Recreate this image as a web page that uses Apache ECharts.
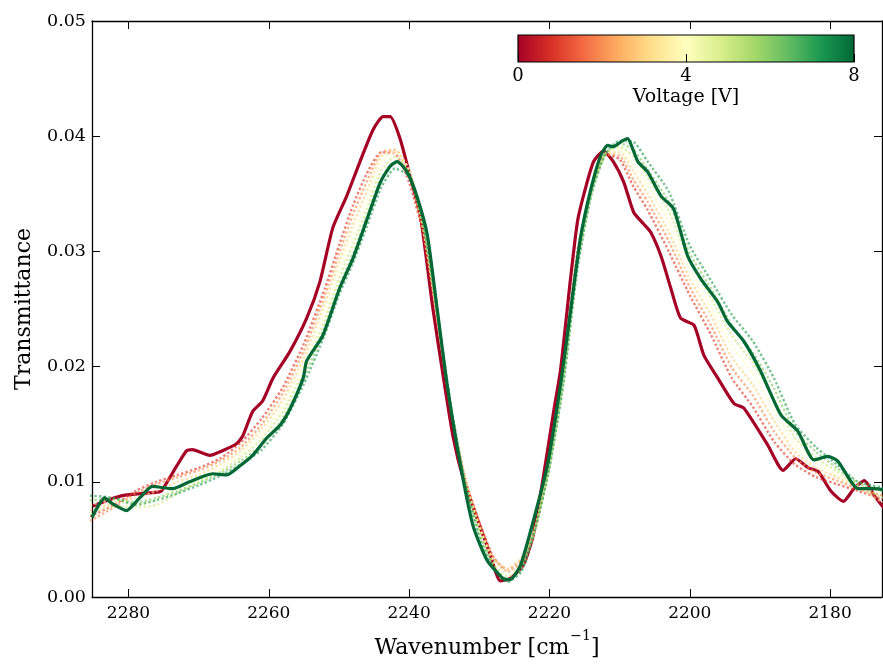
<!DOCTYPE html>
<html>
<head>
<meta charset="utf-8">
<script src="https://cdn.jsdelivr.net/npm/echarts@6/dist/echarts.min.js"></script>
<style>
html,body{margin:0;padding:0;background:#ffffff;}
#chart{width:883px;height:664px;}
</style>
</head>
<body>
<div id="chart"></div>
<script>
// ---------------- DATA ----------------
const xTickValues = [2180, 2200, 2220, 2240, 2260, 2280];
const colorbarTicks = [0, 4, 8];
const voltages = [0, 1, 2, 3, 4, 5, 6, 7, 8];

// 0 V (solid)
const wn0V = [2285.1, 2280.9, 2276.0, 2275.3, 2273.1, 2271.7, 2270.9, 2268.4, 2266.6, 2264.6, 2263.7, 2262.3, 2260.9, 2259.4, 2257.0, 2254.6, 2252.7, 2250.9, 2248.9, 2247.0, 2245.1, 2243.7, 2242.7, 2241.3, 2239.9, 2238.4, 2236.6, 2235.1, 2233.7, 2232.3, 2230.3, 2228.4, 2227.0, 2225.6, 2223.7, 2222.3, 2220.9, 2219.4, 2218.4, 2217.0, 2216.0, 2214.9, 2213.7, 2212.3, 2210.9, 2209.4, 2208.0, 2206.6, 2205.6, 2204.1, 2202.7, 2201.3, 2199.4, 2198.0, 2196.0, 2193.7, 2192.3, 2188.9, 2186.7, 2184.9, 2183.1, 2181.7, 2179.9, 2178.1, 2176.6, 2175.1, 2173.7, 2172.3];
const t0V = [0.0079, 0.0088, 0.0091, 0.0092, 0.0114, 0.0127, 0.0128, 0.0123, 0.0127, 0.0133, 0.0140, 0.0161, 0.0170, 0.0190, 0.0213, 0.0242, 0.0274, 0.0320, 0.0348, 0.0378, 0.0406, 0.0417, 0.0417, 0.0398, 0.0366, 0.0331, 0.0250, 0.0190, 0.0138, 0.0103, 0.0068, 0.0036, 0.0014, 0.0016, 0.0028, 0.0054, 0.0103, 0.0161, 0.0198, 0.0276, 0.0326, 0.0354, 0.0378, 0.0387, 0.0378, 0.0360, 0.0334, 0.0324, 0.0317, 0.0296, 0.0268, 0.0242, 0.0236, 0.0210, 0.0190, 0.0168, 0.0164, 0.0132, 0.0110, 0.0120, 0.0112, 0.0109, 0.0092, 0.0083, 0.0094, 0.0101, 0.0088, 0.0077];

// 8 V (solid)
const wn8V = [2285.2, 2283.4, 2282.3, 2280.3, 2278.4, 2276.6, 2273.7, 2271.3, 2268.0, 2266.0, 2264.1, 2262.3, 2260.3, 2258.4, 2257.0, 2255.1, 2254.6, 2252.3, 2249.9, 2248.0, 2246.0, 2244.1, 2242.7, 2241.7, 2240.3, 2238.9, 2237.4, 2236.0, 2234.6, 2232.7, 2230.9, 2228.9, 2226.6, 2225.6, 2224.1, 2222.3, 2220.3, 2218.4, 2217.0, 2215.6, 2214.1, 2212.7, 2211.7, 2210.9, 2209.6, 2208.9, 2207.4, 2206.0, 2204.1, 2202.3, 2200.3, 2198.4, 2196.0, 2194.6, 2192.3, 2189.9, 2187.0, 2184.6, 2182.3, 2180.3, 2178.9, 2176.0, 2173.7, 2172.4];
const t8V = [0.0069, 0.0086, 0.0081, 0.0075, 0.0086, 0.0096, 0.0094, 0.0100, 0.0107, 0.0106, 0.0114, 0.0123, 0.0138, 0.0149, 0.0163, 0.0190, 0.0205, 0.0227, 0.0268, 0.0294, 0.0328, 0.0360, 0.0374, 0.0378, 0.0369, 0.0348, 0.0314, 0.0250, 0.0185, 0.0115, 0.0062, 0.0032, 0.0016, 0.0015, 0.0028, 0.0066, 0.0114, 0.0185, 0.0248, 0.0311, 0.0354, 0.0383, 0.0392, 0.0391, 0.0396, 0.0398, 0.0378, 0.0369, 0.0348, 0.0337, 0.0296, 0.0276, 0.0256, 0.0239, 0.0222, 0.0196, 0.0158, 0.0144, 0.0119, 0.0122, 0.0118, 0.0094, 0.0094, 0.0093];

// 1..7 V (dotted) on a shared wavenumber grid
const wnMid = [2285.5, 2282, 2279, 2276, 2273, 2270, 2267, 2264, 2261, 2258, 2255, 2252, 2250, 2248, 2246, 2244, 2242, 2240, 2238, 2236, 2234, 2232, 2230, 2228, 2226, 2224, 2222, 2220, 2218, 2216, 2214, 2212, 2210, 2208, 2206, 2203, 2200, 2197, 2194, 2191, 2188, 2185, 2182, 2179, 2176, 2172.5];
const t1V = [70e-4,80e-4,92e-4,100e-4,106e-4,112e-4,120e-4,134e-4,155e-4,182e-4,220e-4,268e-4,305e-4,340e-4,368e-4,386e-4,385e-4,360e-4,315e-4,240e-4,160e-4,102e-4,65e-4,35e-4,22e-4,30e-4,60e-4,118e-4,200e-4,300e-4,355e-4,384e-4,380e-4,356e-4,336e-4,300e-4,262e-4,228e-4,190e-4,165e-4,135e-4,115e-4,104e-4,98e-4,92e-4,85e-4];
const t2V = [66e-4,78e-4,90e-4,98e-4,104e-4,110e-4,118e-4,130e-4,150e-4,177e-4,214e-4,262e-4,298e-4,332e-4,361e-4,386e-4,388e-4,366e-4,318e-4,242e-4,161e-4,102e-4,64e-4,34e-4,24e-4,32e-4,60e-4,117e-4,198e-4,298e-4,354e-4,384e-4,383e-4,362e-4,343e-4,309e-4,269e-4,236e-4,199e-4,175e-4,144e-4,121e-4,108e-4,101e-4,94e-4,88e-4];
const t3V = [75e-4,82e-4,86e-4,92e-4,100e-4,106e-4,115e-4,127e-4,146e-4,171e-4,208e-4,255e-4,291e-4,323e-4,353e-4,382e-4,388e-4,370e-4,320e-4,243e-4,162e-4,101e-4,62e-4,33e-4,25e-4,34e-4,61e-4,116e-4,195e-4,295e-4,353e-4,385e-4,386e-4,369e-4,350e-4,317e-4,276e-4,245e-4,208e-4,184e-4,153e-4,126e-4,112e-4,104e-4,95e-4,82e-4];
const t4V = [80e-4,84e-4,80e-4,84e-4,94e-4,102e-4,112e-4,124e-4,141e-4,166e-4,202e-4,248e-4,284e-4,315e-4,345e-4,377e-4,386e-4,371e-4,322e-4,245e-4,163e-4,100e-4,60e-4,31e-4,22e-4,30e-4,60e-4,115e-4,193e-4,293e-4,352e-4,385e-4,389e-4,375e-4,357e-4,326e-4,284e-4,252e-4,218e-4,194e-4,162e-4,132e-4,117e-4,106e-4,96e-4,90e-4];
const t5V = [72e-4,79e-4,78e-4,80e-4,90e-4,100e-4,109e-4,121e-4,137e-4,161e-4,196e-4,241e-4,276e-4,306e-4,337e-4,370e-4,382e-4,370e-4,323e-4,246e-4,163e-4,100e-4,58e-4,29e-4,18e-4,27e-4,60e-4,114e-4,190e-4,290e-4,352e-4,385e-4,391e-4,382e-4,364e-4,335e-4,291e-4,260e-4,227e-4,203e-4,172e-4,138e-4,121e-4,109e-4,97e-4,86e-4];
const t6V = [84e-4,85e-4,82e-4,86e-4,92e-4,99e-4,107e-4,118e-4,132e-4,155e-4,190e-4,235e-4,269e-4,298e-4,330e-4,363e-4,378e-4,368e-4,324e-4,247e-4,164e-4,99e-4,55e-4,27e-4,15e-4,24e-4,60e-4,113e-4,188e-4,288e-4,351e-4,385e-4,394e-4,388e-4,371e-4,343e-4,298e-4,268e-4,236e-4,212e-4,181e-4,144e-4,126e-4,112e-4,99e-4,92e-4];
const t7V = [88e-4,86e-4,80e-4,84e-4,90e-4,97e-4,105e-4,115e-4,128e-4,150e-4,185e-4,228e-4,262e-4,290e-4,322e-4,355e-4,372e-4,365e-4,325e-4,248e-4,165e-4,98e-4,52e-4,25e-4,13e-4,22e-4,60e-4,112e-4,185e-4,285e-4,350e-4,385e-4,396e-4,395e-4,378e-4,352e-4,305e-4,275e-4,245e-4,222e-4,190e-4,150e-4,130e-4,115e-4,100e-4,95e-4];

// ---------------- STYLE ----------------
const FONT = 'DejaVu Serif';
const RdYlGn = ['#a50026','#d73027','#f46d43','#fdae61','#fee08b','#ffffbf','#d9ef8b','#a6d96a','#66bd63','#1a9850','#006837'];
function hex2rgb(h){return [parseInt(h.slice(1,3),16),parseInt(h.slice(3,5),16),parseInt(h.slice(5,7),16)];}
function cmap(t){
  const n = RdYlGn.length - 1;
  const p = Math.min(Math.max(t,0),1) * n;
  const i = Math.min(Math.floor(p), n - 1);
  const f = p - i;
  const a = hex2rgb(RdYlGn[i]), b = hex2rgb(RdYlGn[i+1]);
  const c = a.map((v,k)=>Math.round(v + (b[k]-v)*f));
  return 'rgb(' + c.join(',') + ')';
}
function pairs(xs, ys){ return xs.map((x,i)=>[x, ys[i]]); }

const midSets = [t1V, t2V, t3V, t4V, t5V, t6V, t7V];
const SMOOTH = 0.2;

const series = [];
series.push({
  type:'line', name:'0 V', xAxisIndex:0, yAxisIndex:0,
  data: pairs(wn0V, t0V), showSymbol:false, symbol:'none', smooth:SMOOTH,
  lineStyle:{color: cmap(voltages[0]/8), width:3.2}, z:3
});
midSets.forEach((arr, k)=>{
  const v = voltages[k+1];
  series.push({
    type:'line', name: v + ' V', xAxisIndex:0, yAxisIndex:0,
    data: pairs(wnMid, arr), showSymbol:false, symbol:'none', smooth:SMOOTH,
    lineStyle:{color: cmap(v/8), width:2.4, type:[2.4, 2.2], cap:'butt', opacity:0.65}, z:4
  });
});
series.push({
  type:'line', name:'8 V', xAxisIndex:0, yAxisIndex:0,
  data: pairs(wn8V, t8V), showSymbol:false, symbol:'none', smooth:SMOOTH,
  lineStyle:{color: cmap(voltages[8]/8), width:3.2}, z:5
});

const gradStops = RdYlGn.map((c,i)=>({offset: i/(RdYlGn.length-1), color:c}));

const axisLineStyle = {color:'#000', width:1.3};
const tickStyle = {color:'#000', width:1};

const chart = echarts.init(document.getElementById('chart'), null, {renderer:'canvas'});
chart.setOption({
  animation:false,
  backgroundColor:'#ffffff',
  grid:[
    {left:92, right:1, top:21, bottom:65, containLabel:false},
    {left:518, width:336, top:35, height:27, show:true,
     backgroundColor: new echarts.graphic.LinearGradient(0,0,1,0,gradStops),
     borderColor:'#000', borderWidth:1.2}
  ],
  xAxis:[
    {gridIndex:0, type:'value', inverse:true, min:2172.6, max:2285.2, position:'bottom',
     axisLine:{show:true, onZero:false, lineStyle:axisLineStyle},
     axisTick:{show:true, inside:true, length:8, customValues:xTickValues, lineStyle:tickStyle},
     axisLabel:{show:true, customValues:xTickValues, color:'#000', fontFamily:FONT, fontSize:17, margin:8, formatter:v=>String(v)},
     splitLine:{show:false},
     name:'{a|Wavenumber [cm}{s|−1}{a|]}', nameLocation:'middle', nameGap:32,
     nameTextStyle:{color:'#000', fontFamily:FONT, fontSize:22,
       rich:{a:{fontFamily:FONT, fontSize:22, color:'#000', lineHeight:30, verticalAlign:'bottom'},
             s:{fontFamily:FONT, fontSize:14, color:'#000', lineHeight:30, verticalAlign:'top', padding:[0,0,0,1]}}}},
    {gridIndex:0, type:'value', inverse:true, min:2172.6, max:2285.2, position:'top',
     axisLine:{show:true, onZero:false, lineStyle:axisLineStyle},
     axisTick:{show:true, inside:true, length:8, customValues:xTickValues, lineStyle:tickStyle},
     axisLabel:{show:false}, splitLine:{show:false}},
    {gridIndex:1, type:'value', min:0, max:8, interval:4, position:'bottom',
     axisLine:{show:false},
     axisTick:{show:true, inside:true, length:8, lineStyle:tickStyle},
     axisLabel:{show:true, customValues:colorbarTicks, color:'#000', fontFamily:FONT, fontSize:18, margin:5, formatter:v=>String(v)},
     splitLine:{show:false},
     name:'Voltage [V]', nameLocation:'middle', nameGap:26,
     nameTextStyle:{color:'#000', fontFamily:FONT, fontSize:19}}
  ],
  yAxis:[
    {gridIndex:0, type:'value', min:0, max:0.05, interval:0.01, position:'left',
     axisLine:{show:true, onZero:false, lineStyle:axisLineStyle},
     axisTick:{show:true, inside:true, length:8, lineStyle:tickStyle},
     axisLabel:{show:true, color:'#000', fontFamily:FONT, fontSize:17.5, margin:6, formatter:v=>v.toFixed(2)},
     splitLine:{show:false},
     name:'Transmittance', nameLocation:'middle', nameGap:57,
     nameTextStyle:{color:'#000', fontFamily:FONT, fontSize:22}},
    {gridIndex:0, type:'value', min:0, max:0.05, interval:0.01, position:'right',
     axisLine:{show:true, onZero:false, lineStyle:axisLineStyle},
     axisTick:{show:true, inside:true, length:8, lineStyle:tickStyle},
     axisLabel:{show:false}, splitLine:{show:false}},
    {gridIndex:1, type:'value', min:0, max:1, show:false}
  ],
  series: series
});
</script>
</body>
</html>
